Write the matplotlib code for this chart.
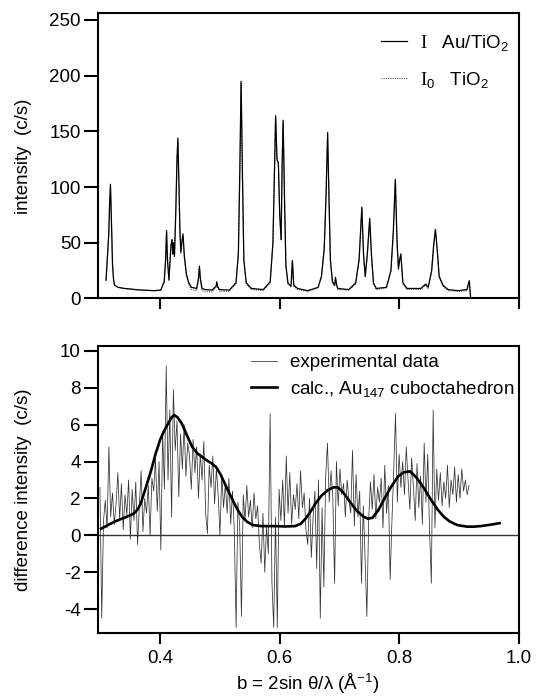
import numpy as np
import matplotlib
matplotlib.use("Agg")
import matplotlib.pyplot as plt

plt.rcParams['font.family'] = ['Liberation Sans', 'DejaVu Sans']
plt.rcParams['mathtext.fontset'] = 'custom'
plt.rcParams['mathtext.rm'] = 'Liberation Serif'
plt.rcParams['mathtext.sf'] = 'Liberation Sans'
plt.rcParams['mathtext.it'] = 'Liberation Sans:italic'
plt.rcParams['axes.unicode_minus'] = False

FS = 13.5

# --- top panel: diffraction patterns (b in 1/A, intensity in c/s)
top_b = [0.3092, 0.3138, 0.3152, 0.3166, 0.3180, 0.3201, 0.3218, 0.3235, 0.3292, 0.3400,
         0.3500, 0.3607, 0.3750, 0.3900, 0.4008, 0.4066, 0.4090, 0.4106, 0.4120, 0.4146,
         0.4165, 0.4180, 0.4198, 0.4210, 0.4221, 0.4238, 0.4261, 0.4280, 0.4295, 0.4310,
         0.4330, 0.4345, 0.4365, 0.4381, 0.4404, 0.4438, 0.4478, 0.4524, 0.4610, 0.4640,
         0.4656, 0.4672, 0.4700, 0.4753, 0.4867, 0.4935, 0.4947, 0.4960, 0.4993, 0.5154,
         0.5268, 0.5308, 0.5331, 0.5354, 0.5377, 0.5400, 0.5440, 0.5526, 0.5726, 0.5841,
         0.5887, 0.5915, 0.5932, 0.5955, 0.5978, 0.6001, 0.6024, 0.6041, 0.6058, 0.6081,
         0.6104, 0.6138, 0.6190, 0.6213, 0.6236, 0.6299, 0.6471, 0.6643, 0.6700, 0.6746,
         0.6775, 0.6803, 0.6826, 0.6849, 0.6884, 0.6920, 0.6935, 0.6955, 0.6975, 0.7158,
         0.7273, 0.7330, 0.7376, 0.7404, 0.7433, 0.7468, 0.7508, 0.7536, 0.7571, 0.7617,
         0.7788, 0.7863, 0.7903, 0.7937, 0.7966, 0.7989, 0.8010, 0.8029, 0.8064, 0.8132,
         0.8362, 0.8447, 0.8487, 0.8545, 0.8579, 0.8608, 0.8637, 0.8671, 0.8734, 0.8820,
         0.8992, 0.9135, 0.9175, 0.9198]
top_I = [16.4, 58, 85, 102.5, 75, 30, 17, 12, 10, 9,
         8.5, 7.8, 7.4, 7, 7.5, 15, 35, 61, 35, 17,
         35, 48, 53, 40, 50, 38, 80, 125, 144, 110,
         60, 42, 52, 58, 38, 22, 14, 10, 9, 18,
         29, 18, 9, 8, 7.5, 11, 15, 11, 8, 7.5,
         14, 40, 110, 195, 110, 35, 14, 9, 8, 15,
         50, 120, 164, 125, 122, 75, 53, 120, 160, 90,
         30, 14, 11, 34, 12, 9, 7, 10, 20, 45,
         90, 149, 90, 35, 15, 12, 19, 12, 9, 8,
         14, 35, 82, 40, 20, 40, 72, 40, 14, 9,
         10, 25, 60, 107, 50, 27, 35, 40, 14, 9,
         9, 13, 10, 25, 48, 62, 45, 20, 12, 8,
         7, 8, 16, 0]
top_I0 = [16.4, 58, 85, 102, 75, 30, 17, 12, 10, 9,
          8.5, 7.8, 7.4, 7, 7.5, 15, 35, 60, 35, 16,
          34, 47, 52, 39, 49, 37, 78, 122, 141, 108,
          58, 40, 51, 56, 36, 20, 12, 8, 7, 16,
          28, 16, 7, 6, 6, 10, 14, 10, 6.5, 6.5,
          13, 39, 108, 193, 108, 34, 13, 8, 7, 14,
          49, 119, 162, 124, 121, 74, 52, 119, 158, 89,
          29, 13, 10, 33, 11, 8, 6.5, 9.5, 19, 44,
          89, 147, 89, 34, 14, 11, 18, 11, 8, 7.5,
          13, 34, 81, 39, 19, 39, 71, 39, 13, 8,
          9.5, 24, 59, 106, 49, 26, 34, 39, 13, 8,
          8, 12, 9, 24, 47, 61, 44, 19, 11, 7,
          6.5, 7, 15, 0]

# --- bottom panel: difference intensity, sampled every 0.003 from b = 0.299
diff_I = [2.6, -4.5, 0.8, 1.9, 0.4, 4.8, 1.0, 2.3, 0.6, 1.7,
          3.4, 0.9, 2.8, 0.3, 2.2, 1.1, 3.0, -0.2, 2.5, 0.8,
          2.9, -0.5, 1.6, 3.5, 0.2, 2.0, 1.2, 2.7, 0.0, 3.1,
          2.4, 4.2, 1.3, 4.0, -0.8, 5.6, 2.5, 9.2, 3.0, 6.8,
          1.0, 7.9, 4.6, 6.2, 2.1, 5.5, 3.6, 6.0, 3.2, 5.0,
          4.3, 2.5, 5.2, 3.4, 4.8, 2.0, 4.4, 3.0, 5.1, 1.2,
          0.1, 3.8, 2.6, 4.3, 1.7, 3.6, 2.2, 0.0, 3.3, 1.5,
          2.8, 1.2, 3.1, 0.6, 2.4, 0.3, -5.0, 1.8, 0.5, -4.4,
          2.2, 0.8, 2.7, 1.0, 1.9, 0.4, 2.3, 0.9, 1.6, -0.5,
          -1.5, 1.2, -2.0, 0.5, -1.0, 6.6, -2.5, -5.0, 1.0, -5.0,
          2.5, 0.8, 3.0, 0.5, 4.3, 1.2, 3.4, 0.6, 2.2, 1.4,
          2.8, 0.9, 3.5, 1.5, 2.3, 0.3, -0.5, 2.0, -1.2, 1.0,
          2.4, -1.8, 3.0, -4.5, 1.5, -2.8, 3.2, 5.0, 1.8, 3.5,
          2.0, -2.6, 4.0, 1.6, 3.6, 2.2, 2.8, 1.0, 3.0, 1.9,
          1.2, 4.6, 0.5, 3.3, 1.0, 2.4, -2.6, 1.6, -1.2, -4.4,
          0.8, 2.9, 1.4, 3.3, 0.9, 2.6, 1.8, 3.1, 0.4, 3.8,
          1.2, 2.7, -2.4, 0.8, 3.5, 6.6, 1.8, 4.4, 2.6, 4.0,
          2.2, 4.8, 3.0, 1.4, 4.2, 2.6, 0.8, 3.9, 1.5, 3.2,
          0.6, 5.0, 1.8, 4.4, 0.2, -2.6, 6.8, 0.4, 3.6, 1.9,
          3.4, 1.6, 2.9, 2.0, 3.8, 1.5, 3.0, 2.2, 3.7, 1.8,
          3.3, 2.0, 3.6, 2.4, 3.0, 2.2, 2.7]
diff_b = 0.299 + 0.003 * np.arange(len(diff_I))

calc_b = [0.301, 0.315, 0.327, 0.342, 0.3557, 0.362, 0.367, 0.375, 0.3845, 0.392,
          0.400, 0.407, 0.4132, 0.419, 0.4235, 0.429, 0.436, 0.445, 0.4534, 0.462,
          0.4764, 0.486, 0.4937, 0.501, 0.511, 0.520, 0.5282, 0.537, 0.5455, 0.555,
          0.5684, 0.590, 0.610, 0.6259, 0.635, 0.6433, 0.652, 0.6605, 0.670, 0.6806,
          0.690, 0.6978, 0.707, 0.718, 0.730, 0.741, 0.748, 0.7554, 0.765, 0.7756,
          0.787, 0.7985, 0.808, 0.8186, 0.830, 0.8416, 0.853, 0.8647, 0.875, 0.8848,
          0.898, 0.9136, 0.925, 0.9366, 0.952, 0.9682]
calc_I = [0.36, 0.6, 0.79, 0.98, 1.18, 1.4, 1.7, 2.5, 3.5, 4.4,
          5.2, 5.7, 6.07, 6.4, 6.52, 6.4, 6.07, 5.4, 4.8, 4.45,
          4.1, 3.9, 3.7, 3.3, 2.6, 2.0, 1.46, 1.0, 0.73, 0.56,
          0.5, 0.5, 0.48, 0.5, 0.62, 0.9, 1.3, 1.75, 2.15, 2.45,
          2.6, 2.6, 2.3, 1.8, 1.3, 1.0, 0.9, 0.95, 1.35, 2.0,
          2.65, 3.2, 3.42, 3.47, 3.1, 2.56, 1.95, 1.39, 1.0, 0.75,
          0.55, 0.47, 0.47, 0.5, 0.57, 0.66]

fig = plt.figure(figsize=(5.36, 7.0), dpi=100)
ax1 = fig.add_axes([0.182, 0.5736, 0.7854, 0.4074])
ax2 = fig.add_axes([0.182, 0.0957, 0.7854, 0.41])

# top panel
ax1.plot(top_b, top_I0, color='#555555', lw=0.8, ls=(0, (1, 1)),
         label=r'$\mathrm{I}_\mathsf{0}$   TiO$_\mathsf{2}$')
ax1.plot(top_b, top_I, color='black', lw=0.9, label=r'$\mathrm{I}$   Au/TiO$_\mathsf{2}$')
ax1.set_xlim(0.295, 1.0)
ax1.set_ylim(0, 256)
ax1.set_xticks([0.4, 0.6, 0.8, 1.0])
ax1.set_yticks([0, 50, 100, 150, 200, 250])
ax1.tick_params(axis='x', labelbottom=False)
ax1.set_ylabel('intensity  (c/s)', fontsize=FS)
h, l = ax1.get_legend_handles_labels()
ax1.legend(h[::-1], l[::-1], loc='upper right', bbox_to_anchor=(1.0, 0.965),
           frameon=False, fontsize=FS, handlelength=1.4, labelspacing=0.9,
           handletextpad=0.7, borderpad=0.4, borderaxespad=0.1)

# bottom panel
ax2.axhline(0, color='#333333', lw=1.0)
ax2.plot(diff_b, diff_I, color='#333333', lw=0.55, label='experimental data')
ax2.plot(calc_b, calc_I, color='black', lw=1.9, label=r'calc., Au$_\mathsf{147}$ cuboctahedron')
ax2.set_xlim(0.295, 1.0)
ax2.set_ylim(-5.3, 10.27)
ax2.set_xticks([0.4, 0.6, 0.8, 1.0])
ax2.set_xticklabels(['0.4', '0.6', '0.8', '1.0'])
ax2.set_yticks([-4, -2, 0, 2, 4, 6, 8, 10])
ax2.set_ylabel('difference intensity  (c/s)', fontsize=FS)
ax2.set_xlabel(r'b = 2sin θ/λ (Å$^\mathsf{-1}$)', fontsize=FS)
ax2.legend(loc='upper right', bbox_to_anchor=(1.0, 0.985), frameon=False, fontsize=FS,
           handlelength=1.4, labelspacing=0.4, handletextpad=0.7, borderpad=0.1,
           borderaxespad=0.1)

for ax in (ax1, ax2):
    for s in ax.spines.values():
        s.set_linewidth(1.5)
    ax.tick_params(axis='y', direction='out', length=10, width=1.5, labelsize=FS, pad=2)
    ax.tick_params(axis='x', direction='out', length=8, width=1.5, labelsize=FS, pad=4)
    ax.yaxis.set_label_coords(-0.155, 0.5)

fig.savefig('out.png', dpi=100)
